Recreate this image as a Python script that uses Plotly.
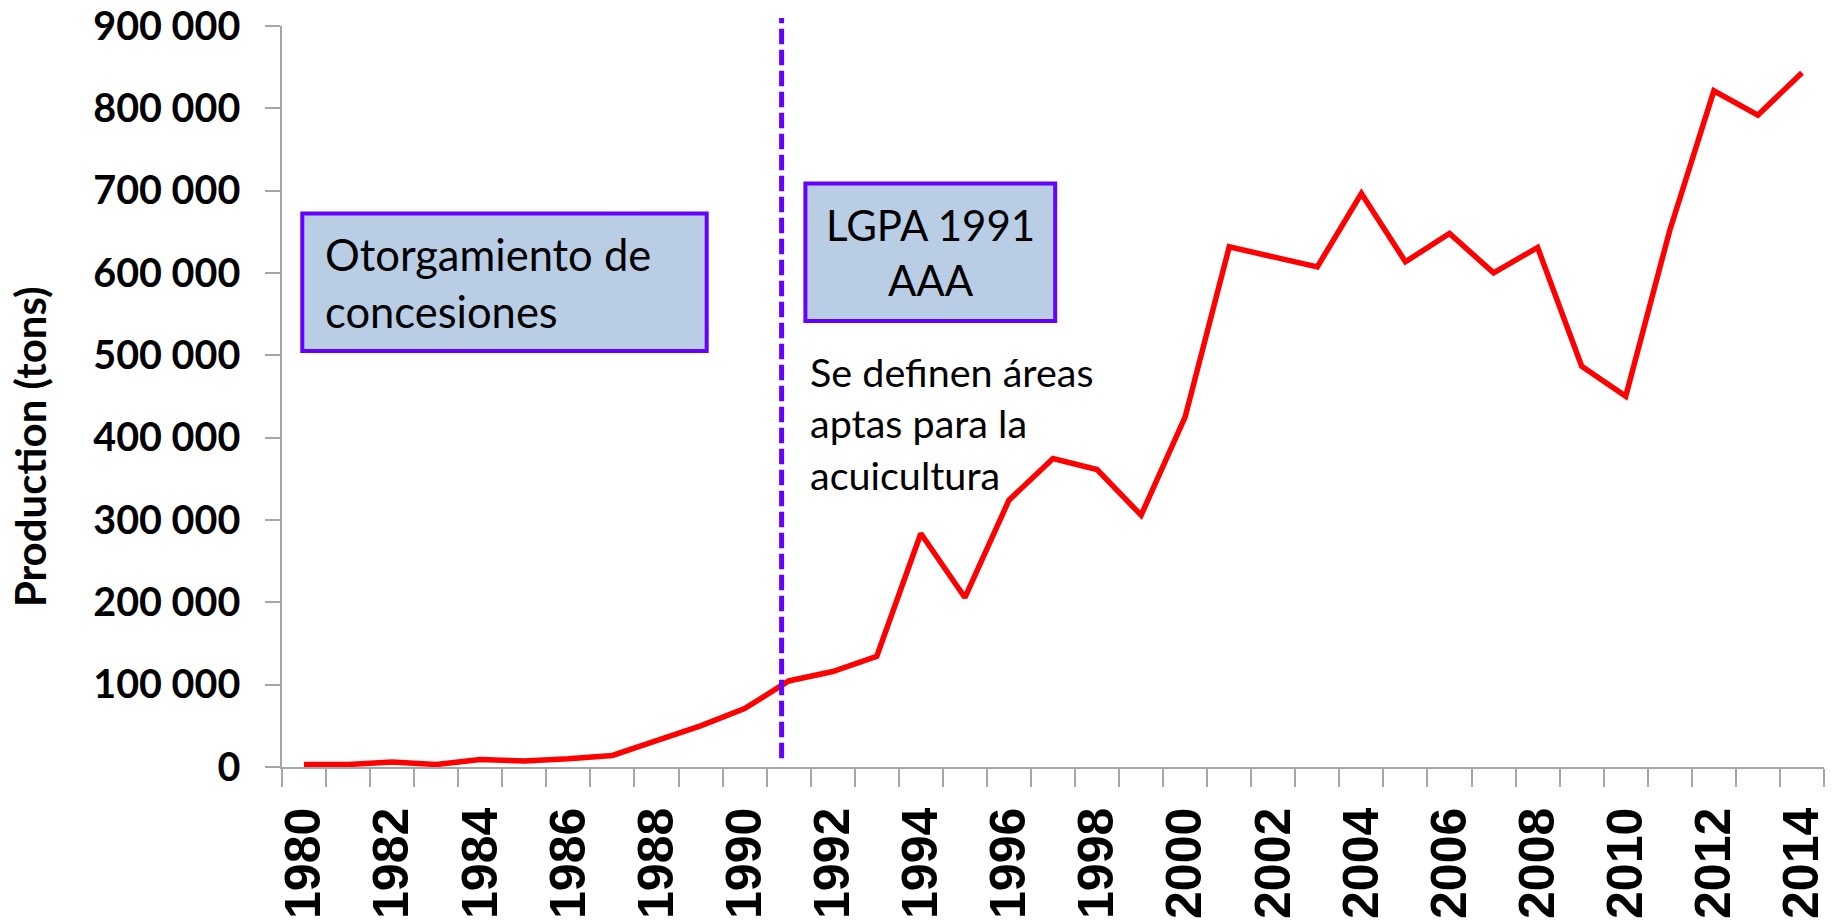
import plotly.graph_objects as go

# ---------------- data ----------------
years = list(range(1980, 2015))
production = [
    2900, 3000, 6000, 3000, 9000, 7300, 10000, 14000, 32000, 50000,
    71000, 104500, 116000, 134500, 283600, 205800, 324000, 374700, 361300, 305800,
    425300, 631800, 619600, 607500, 696600, 613600, 648000, 600200, 631000, 486800,
    450400, 652000, 821300, 791800, 843200,
]
x_tick_years = list(range(1980, 2015, 2))
x_tick_labels = [str(y) for y in x_tick_years]
y_tick_values = list(range(0, 900001, 100000))
y_tick_labels = ["0"] + [f"{v // 1000} 000" for v in y_tick_values[1:]]

law_year = 1990.84          # position of the dashed marker
box1_text = "Otorgamiento de<br>concesiones"
box2_text = "LGPA 1991<br>AAA"
note_text = "Se definen áreas<br>aptas para la<br>acuicultura"
y_title = "Production (tons)"

# ---------------- styles ----------------
RED = "#FF0000"
VIOLET = "#6600FF"
BOX_FILL = "#B9CDE5"
AXIS_GRAY = "#A6A6A6"
FONT_TXT = "Lato"

fig = go.Figure()
fig.add_trace(go.Scatter(
    x=years, y=production, mode="lines",
    line=dict(color=RED, width=5.5),
    showlegend=False, hoverinfo="skip",
))

# dashed vertical line
fig.add_shape(type="line", xref="x", yref="paper",
              x0=law_year, x1=law_year, y0=0.0117, y1=1.0107,
              line=dict(color=VIOLET, width=5, dash="15.5px,5.5px"))

# boxes
fig.add_shape(type="rect", xref="x", yref="y",
              x0=1979.96, x1=1989.14, y0=505400, y1=672300,
              fillcolor=BOX_FILL, line=dict(color=VIOLET, width=4), layer="above")
fig.add_shape(type="rect", xref="x", yref="y",
              x0=1991.38, x1=1997.05, y0=541800, y1=708800,
              fillcolor=BOX_FILL, line=dict(color=VIOLET, width=4), layer="above")

fig.add_annotation(x=1980.44, y=588900, xref="x", yref="y", text=box1_text,
                   showarrow=False, xanchor="left", yanchor="middle", align="left",
                   font=dict(family=FONT_TXT, size=43.5, color="black"))
fig.add_annotation(x=1994.215, y=625300, xref="x", yref="y", text=box2_text,
                   showarrow=False, xanchor="center", yanchor="middle", align="center",
                   font=dict(family=FONT_TXT, size=42, color="black"))
fig.add_annotation(x=1991.45, y=417600, xref="x", yref="y", text=note_text,
                   showarrow=False, xanchor="left", yanchor="middle", align="left",
                   font=dict(family=FONT_TXT, size=39.5, color="black"))

# y-axis title
fig.add_annotation(x=-0.1635, y=0.4329, xref="paper", yref="paper", text=y_title,
                   textangle=-90, showarrow=False, xanchor="center", yanchor="middle",
                   font=dict(family=FONT_TXT, size=42, color="black", weight="bold"))

fig.update_layout(
    width=1845, height=923,
    margin=dict(l=282, r=21, t=26, b=156, autoexpand=False),
    paper_bgcolor="white", plot_bgcolor="white",
    showlegend=False,
)
fig.update_xaxes(
    range=[1979.5, 2014.5], automargin=False,
    tickmode="array", tickvals=x_tick_years, ticktext=x_tick_labels,
    tickangle=-90, ticks="outside", ticklen=18, tickcolor="rgba(0,0,0,0)",
    ticklabelstandoff=1,
    tickfont=dict(family="Liberation Sans", size=50, color="black", weight="bold"),
    minor=dict(tick0=1979.5, dtick=1, ticks="outside", ticklen=18,
               tickcolor=AXIS_GRAY, tickwidth=1.5),
    showline=True, linecolor=AXIS_GRAY, linewidth=1.5,
    showgrid=False, zeroline=False,
)
fig.update_yaxes(
    range=[0, 900000], automargin=False,
    tickmode="array", tickvals=y_tick_values, ticktext=y_tick_labels,
    ticks="outside", ticklen=15, tickcolor=AXIS_GRAY, tickwidth=1.5,
    ticklabelstandoff=17,
    tickfont=dict(family=FONT_TXT, size=39.5, color="black", weight="bold"),
    showline=True, linecolor=AXIS_GRAY, linewidth=1.5,
    showgrid=False, zeroline=False,
)

fig.write_html("out.html", config={"displayModeBar": False},
               post_script="document.body.style.margin='0px';document.body.style.overflow='hidden';")
